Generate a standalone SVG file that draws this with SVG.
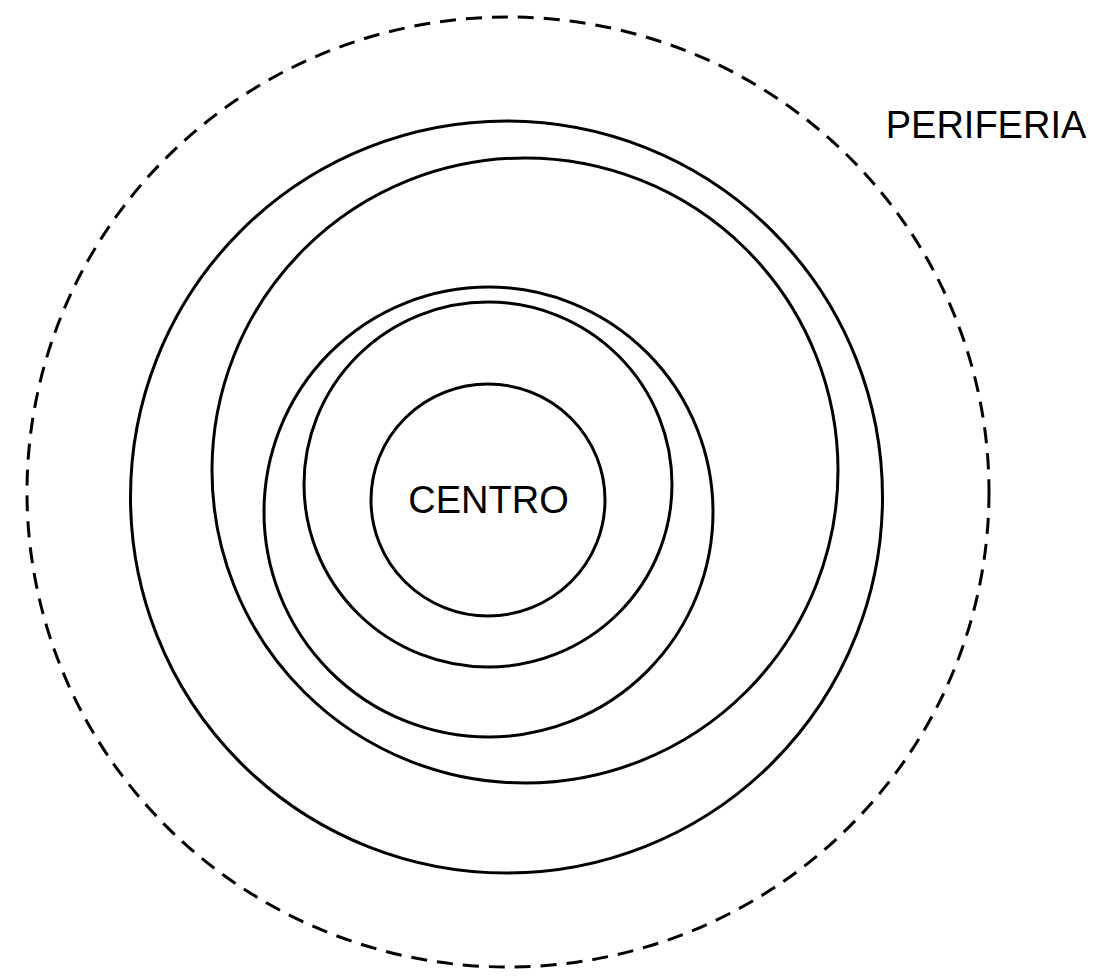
<svg xmlns="http://www.w3.org/2000/svg" width="1099" height="976" viewBox="0 0 1099 976">
<style>
.ring{fill:none;stroke:#000;stroke-width:3}
.dash{fill:none;stroke:#000;stroke-width:3;stroke-dasharray:16 10}
.lbl{font-family:"Liberation Sans",Arial,sans-serif;font-size:38px;fill:#000;text-anchor:middle}
</style>
<rect width="1099" height="976" fill="#fff"/>
<g id="periferia">
<ellipse class="dash" cx="508" cy="492" rx="481" ry="475"/>
<text class="lbl" x="986" y="138">PERIFERIA</text>
</g>
<g id="ring1"><ellipse class="ring" cx="506.5" cy="497" rx="376" ry="376"/></g>
<g id="ring2"><ellipse class="ring" cx="525" cy="470.5" rx="313" ry="312.5"/></g>
<g id="ring3"><ellipse class="ring" cx="488.5" cy="512" rx="224.5" ry="225"/></g>
<g id="ring4"><ellipse class="ring" cx="488" cy="484.5" rx="184" ry="182.5"/></g>
<g id="centro">
<ellipse class="ring" cx="488" cy="500" rx="117" ry="116"/>
<text class="lbl" x="488.5" y="513">CENTRO</text>
</g>
<g id="connectors"/>
</svg>
